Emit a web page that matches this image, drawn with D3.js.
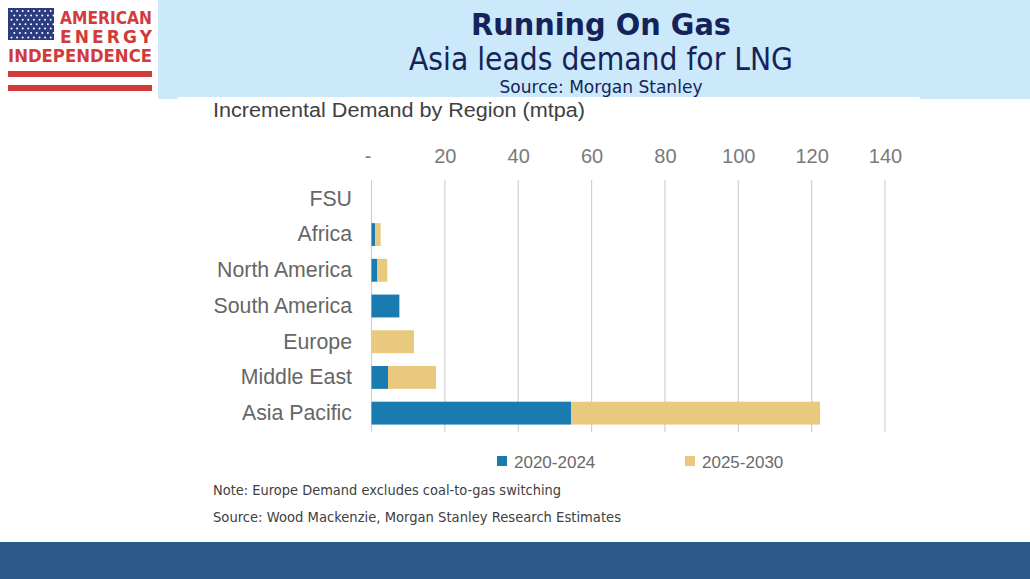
<!DOCTYPE html>
<html>
<head>
<meta charset="utf-8">
<script src="https://cdn.jsdelivr.net/npm/d3@7"></script>
<style>
  body { margin: 0; background: #fff; }
  svg { display: block; }
</style>
</head>
<body>
<svg id="chart" width="1030" height="579"></svg>
<script>
// data
const regions = ['FSU', 'Africa', 'North America', 'South America', 'Europe', 'Middle East', 'Asia Pacific']
const demand2020 = [0, 1.0, 1.6, 7.6, 0, 4.5, 54.4]
const demand2025 = [0, 1.5, 2.7, 0, 11.6, 13.1, 67.9]
const seriesNames = ['2020-2024', '2025-2030']
const xTicks = [0, 20, 40, 60, 80, 100, 120, 140]

const colors = ['#1a7bb0', '#e8c97e']
const svg = d3.select('#chart')

// header panel
svg.append('rect').attr('x', 158).attr('y', 0).attr('width', 872).attr('height', 99).attr('fill', '#cce9fb')
svg.append('rect').attr('x', 178).attr('y', 97).attr('width', 742).attr('height', 445).attr('fill', '#fff')
svg.append('rect').attr('x', 0).attr('y', 542).attr('width', 1030).attr('height', 37).attr('fill', '#2b5a8a')

const header = svg.append('g').attr('font-family', 'DejaVu Sans Condensed, Tahoma, sans-serif')
  .attr('fill', '#14245a').attr('text-anchor', 'middle')
header.append('text').attr('x', 601).attr('y', 35).attr('font-size', 30).attr('font-weight', 'bold')
  .attr('textLength', 260).attr('lengthAdjust', 'spacingAndGlyphs').text('Running On Gas')
header.append('text').attr('x', 601).attr('y', 70).attr('font-size', 32)
  .attr('textLength', 384).attr('lengthAdjust', 'spacingAndGlyphs').text('Asia leads demand for LNG')
header.append('text').attr('x', 601).attr('y', 93).attr('font-size', 18)
  .attr('textLength', 203).attr('lengthAdjust', 'spacingAndGlyphs').text('Source: Morgan Stanley')

// logo
const logo = svg.append('g')
logo.append('rect').attr('x', 8).attr('y', 8).attr('width', 46).attr('height', 32).attr('fill', '#2b3b80')
for (let r = 0; r < 7; r++) {
  for (let c = 0; c < 8; c++) {
    logo.append('circle').attr('cx', 11.5 + c * 5.6 + (r % 2) * 2.8).attr('cy', 11 + r * 4.4)
      .attr('r', 1).attr('fill', '#fff')
  }
}
const logoText = logo.append('g').attr('font-family', 'DejaVu Sans, Verdana, sans-serif')
  .attr('font-weight', 'bold').attr('fill', '#d23a3c')
logoText.append('text').attr('x', 60).attr('y', 24).attr('font-size', 17)
  .attr('textLength', 92).attr('lengthAdjust', 'spacingAndGlyphs').text('AMERICAN')
logoText.append('text').attr('x', 60).attr('y', 43).attr('font-size', 17).attr('textLength', 92)
  .attr('lengthAdjust', 'spacing').text('ENERGY')
logoText.append('text').attr('x', 8).attr('y', 62).attr('font-size', 17)
  .attr('textLength', 144).attr('lengthAdjust', 'spacingAndGlyphs').text('INDEPENDENCE')
logo.append('rect').attr('x', 8).attr('y', 71).attr('width', 144).attr('height', 6).attr('fill', '#d23a3c')
logo.append('rect').attr('x', 8).attr('y', 85).attr('width', 144).attr('height', 6).attr('fill', '#d23a3c')

// chart
const font = 'Liberation Sans, Arial, sans-serif'
const x = d3.scaleLinear().domain([0, 140]).range([371.5, 885])
const y = d3.scaleBand().domain(regions).range([181, 431]).paddingInner(0.36).paddingOuter(0.18)

svg.append('text').attr('x', 213).attr('y', 117).attr('font-family', font).attr('font-size', 20)
  .attr('fill', '#404040').attr('textLength', 372).attr('lengthAdjust', 'spacingAndGlyphs')
  .text('Incremental Demand by Region (mtpa)')

svg.append('g').selectAll('line').data(xTicks).join('line')
  .attr('x1', d => x(d)).attr('x2', d => x(d)).attr('y1', 180).attr('y2', 432)
  .attr('stroke', '#d0d0d0').attr('stroke-width', 1.2)

const xAxis = svg.append('g').attr('transform', 'translate(0,163)')
  .call(d3.axisTop(x).tickValues(xTicks).tickSize(0).tickPadding(0).tickFormat(d => d === 0 ? '-' : d))
xAxis.select('.domain').remove()
xAxis.selectAll('text').attr('font-family', font).attr('font-size', 20).attr('fill', '#7a7a7a')
xAxis.selectAll('.tick').filter(d => d === 0).select('text').attr('dx', -4)

const yAxis = svg.append('g').attr('transform', 'translate(352,0)')
  .call(d3.axisLeft(y).tickSize(0).tickPadding(0))
yAxis.select('.domain').remove()
yAxis.selectAll('text').attr('font-family', font).attr('font-size', 21.3).attr('fill', '#666')

const stackData = regions.map((r, i) => ({ region: r, a: demand2020[i], b: demand2025[i] }))
const stacked = d3.stack().keys(['a', 'b'])(stackData)

svg.append('g').selectAll('g').data(stacked).join('g')
  .attr('fill', (d, i) => colors[i])
  .selectAll('rect').data(d => d).join('rect')
  .attr('x', d => x(d[0]))
  .attr('y', d => y(d.data.region))
  .attr('width', d => x(d[1]) - x(d[0]))
  .attr('height', y.bandwidth())

// legend
const legendX = [497, 685]
const legend = svg.append('g').selectAll('g').data(seriesNames).join('g')
  .attr('transform', (d, i) => `translate(${legendX[i]},456)`)
legend.append('rect').attr('width', 10).attr('height', 10).attr('fill', (d, i) => colors[i])
legend.append('text').attr('x', 17).attr('y', 12).attr('font-family', font).attr('font-size', 17)
  .attr('fill', '#6a6a6a').text(d => d)

// notes
const notes = svg.append('g').attr('font-family', 'DejaVu Sans, sans-serif').attr('font-size', 13.5).attr('fill', '#404040')
notes.append('text').attr('x', 213).attr('y', 495).attr('textLength', 348).attr('lengthAdjust', 'spacingAndGlyphs')
  .text('Note: Europe Demand excludes coal-to-gas switching')
notes.append('text').attr('x', 213).attr('y', 522).attr('textLength', 408).attr('lengthAdjust', 'spacingAndGlyphs')
  .text('Source: Wood Mackenzie, Morgan Stanley Research Estimates')
</script>
</body>
</html>
